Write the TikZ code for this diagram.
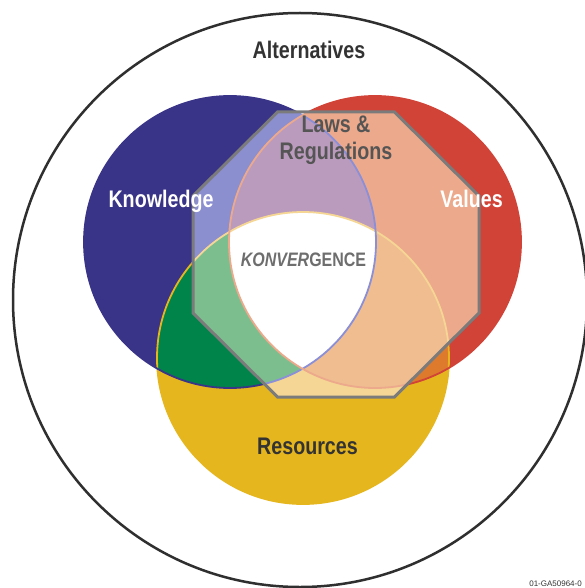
\documentclass[tikz,border=0pt]{standalone}
\usepackage{fontspec}
\newfontfamily\labelfont[FakeStretch=0.82]{Liberation Sans}
\newfontfamily\tagfont{Liberation Sans}
\begin{document}
\begin{tikzpicture}[x=1pt,y=-1pt,
  lbl/.style={font=\labelfont\bfseries\fontsize{24}{27}\selectfont, anchor=base, inner sep=0pt},
  ring/.style={line width=1.8pt}]
% full-strength colours
\definecolor{kblue}{HTML}{393487}
\definecolor{vred}{HTML}{D14237}
\definecolor{ryel}{HTML}{E6B61E}
\definecolor{kgreen}{HTML}{00844A}
\definecolor{korange}{HTML}{DE7A2C}
% pale colours under the octagon
\definecolor{pblue}{HTML}{8B8ECF}
\definecolor{pblueline}{HTML}{8A8FD8}
\definecolor{pred}{HTML}{EDA98B}
\definecolor{pyel}{HTML}{F5D694}
\definecolor{pmauve}{HTML}{BB9BBD}
\definecolor{pgreen}{HTML}{7DBE8F}
\definecolor{porange}{HTML}{F0BD90}
\definecolor{octgray}{HTML}{7B7B7B}
\definecolor{ringgray}{HTML}{2F2F2F}
\definecolor{txtdark}{HTML}{333333}
\definecolor{txtmid}{HTML}{555555}
\definecolor{txtlight}{HTML}{6E6E6E}

\useasboundingbox (0,0) rectangle (584,588);
\fill[white] (0,0) rectangle (584,588);

\coordinate (cB) at (230,242);
\coordinate (cR) at (375,242);
\coordinate (cY) at (303,358);
\def\rr{146}

% octagon corners
\coordinate (o1) at (277.5,112);
\coordinate (o2) at (394.5,112);
\coordinate (o3) at (479,196);
\coordinate (o4) at (479,313);
\coordinate (o5) at (394.5,397);
\coordinate (o6) at (277.5,397);
\coordinate (o7) at (193,313);
\coordinate (o8) at (193,196);

% outer circle of alternatives
\draw[line width=2.5pt, ringgray] (300,300) circle[radius=287];

% the three discs at full strength
\fill[kblue] (cB) circle[radius=\rr];
\fill[vred] (cR) circle[radius=\rr];
\fill[ryel] (cY) circle[radius=\rr];
\begin{scope}
  \clip (cB) circle[radius=\rr];
  \fill[kgreen] (cY) circle[radius=\rr];
\end{scope}
\begin{scope}
  \clip (cR) circle[radius=\rr];
  \fill[korange] (cY) circle[radius=\rr];
\end{scope}
\draw[ring, ryel] (cY) circle[radius=\rr];
\draw[ring, kblue] (cB) circle[radius=\rr];
\draw[ring, vred] (cR) circle[radius=\rr];

% pale version inside the octagon
\begin{scope}
  \clip (o1) -- (o2) -- (o3) -- (o4) -- (o5) -- (o6) -- (o7) -- (o8) -- cycle;
  \fill[white] (o1) -- (o2) -- (o3) -- (o4) -- (o5) -- (o6) -- (o7) -- (o8) -- cycle;
  \fill[pblue] (cB) circle[radius=\rr];
  \fill[pred] (cR) circle[radius=\rr];
  \fill[pyel] (cY) circle[radius=\rr];
  \begin{scope}
    \clip (cB) circle[radius=\rr];
    \fill[pmauve] (cR) circle[radius=\rr];
    \fill[pgreen] (cY) circle[radius=\rr];
  \end{scope}
  \begin{scope}
    \clip (cR) circle[radius=\rr];
    \fill[porange] (cY) circle[radius=\rr];
    \clip (cB) circle[radius=\rr];
    \fill[white] (cY) circle[radius=\rr];
  \end{scope}
  \draw[ring, pyel] (cY) circle[radius=\rr];
  \draw[ring, pblueline] (cB) circle[radius=\rr];
  \draw[ring, pred] (cR) circle[radius=\rr];
\end{scope}

% laws and regulations octagon
\draw[octgray, line width=3pt, line join=miter]
  (o1) -- (o2) -- (o3) -- (o4) -- (o5) -- (o6) -- (o7) -- (o8) -- cycle;

% labels
\node[lbl, txtdark] (alt) at (309,59) {Alternatives};
\node[lbl, txtmid] (laws) at (336,133) {Laws \&};
\node[lbl, txtmid] (regs) at (336,160) {Regulations};
\node[lbl, white] (know) at (161,207) {Knowledge};
\node[lbl, white] (vals) at (471.5,207) {Values};
\node[lbl, txtlight, font=\labelfont\bfseries\fontsize{19.5}{22}\selectfont] (konv) at (303.5,266)
  {{\itshape KONVER}GENCE};
\node[lbl, txtdark] (res) at (307.5,454) {Resources};
\node[anchor=base east, inner sep=0pt, font=\tagfont\fontsize{8}{9}\selectfont, txtdark] (tag) at (582,586.5)
  {01-GA50964-0};
\end{tikzpicture}
\end{document}
